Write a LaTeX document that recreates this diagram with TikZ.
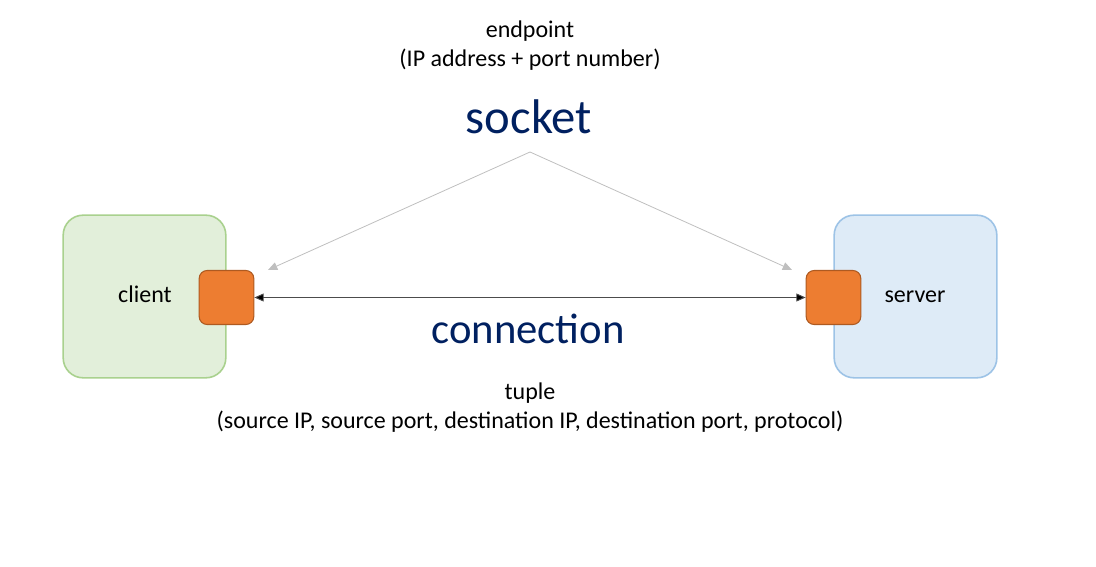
\documentclass[tikz,border=0pt]{standalone}
\usepackage{fontspec}
\setmainfont{Carlito}
\usetikzlibrary{arrows.meta}
\definecolor{cgreen}{HTML}{E2EFDA}
\definecolor{cgreenb}{HTML}{A9D18E}
\definecolor{cblue}{HTML}{DEEBF7}
\definecolor{cblueb}{HTML}{9DC3E6}
\definecolor{corange}{HTML}{ED7D31}
\definecolor{corangeb}{HTML}{AE5A21}
\definecolor{cnavy}{HTML}{002060}
\definecolor{cgray}{HTML}{BFBFBF}
\begin{document}
\begin{tikzpicture}[x=0.75pt,y=-0.75pt,
  hostbox/.style={draw, line width=1.2pt, rounded corners=15pt, minimum width=122pt, minimum height=122pt, inner sep=0pt},
  portbox/.style={draw=corangeb, fill=corange, line width=0.8pt, rounded corners=6pt, minimum width=41pt, minimum height=40.5pt, inner sep=0pt},
  smalltext/.style={font=\fontsize{18}{21.7}\selectfont, align=center},
  hostlabel/.style={font=\fontsize{18}{21}\selectfont, text height=1.6ex, text depth=0.3ex},
  sockettext/.style={font=\fontsize{36.5}{40}\selectfont, text=cnavy},
  conntext/.style={font=\fontsize{32}{36}\selectfont, text=cnavy},
  sockarrow/.style={draw=cgray, line width=0.6pt, -{Triangle[length=7pt,width=6pt,fill=cgray]}},
  connarrow/.style={draw=black!70, line width=0.7pt, {Triangle[length=7pt,width=6pt,fill=black]}-{Triangle[length=7pt,width=6pt,fill=black]}}
]
\useasboundingbox (0,0) rectangle (1096,567);
\node[hostbox, draw=cgreenb, fill=cgreen] (client) at (144.5,296.5) {};
\node[hostbox, draw=cblueb, fill=cblue] (server) at (915.5,296.5) {};
\node[hostlabel] (clientlbl) at (145,298) {client};
\node[hostlabel] (serverlbl) at (915,298) {server};
\node[portbox] (cport) at (226.5,297.5) {};
\node[portbox] (sport) at (833.5,297.5) {};
\coordinate (apex) at (530,152);
\coordinate (ltip) at (268,270);
\coordinate (rtip) at (792,270);
\draw[sockarrow] (apex) -- (ltip);
\draw[sockarrow] (apex) -- (rtip);
\draw[connarrow] (cport.east) -- (sport.west);
\node[smalltext] (endpoint) at (530,46) {endpoint\\(IP address + port number)};
\node[sockettext] (socket) at (529,117) {socket};
\node[conntext] (connection) at (528,329) {connection};
\node[smalltext] (tuple) at (530,408) {tuple\\(source IP, source port, destination IP, destination port, protocol)};
\end{tikzpicture}
\end{document}
